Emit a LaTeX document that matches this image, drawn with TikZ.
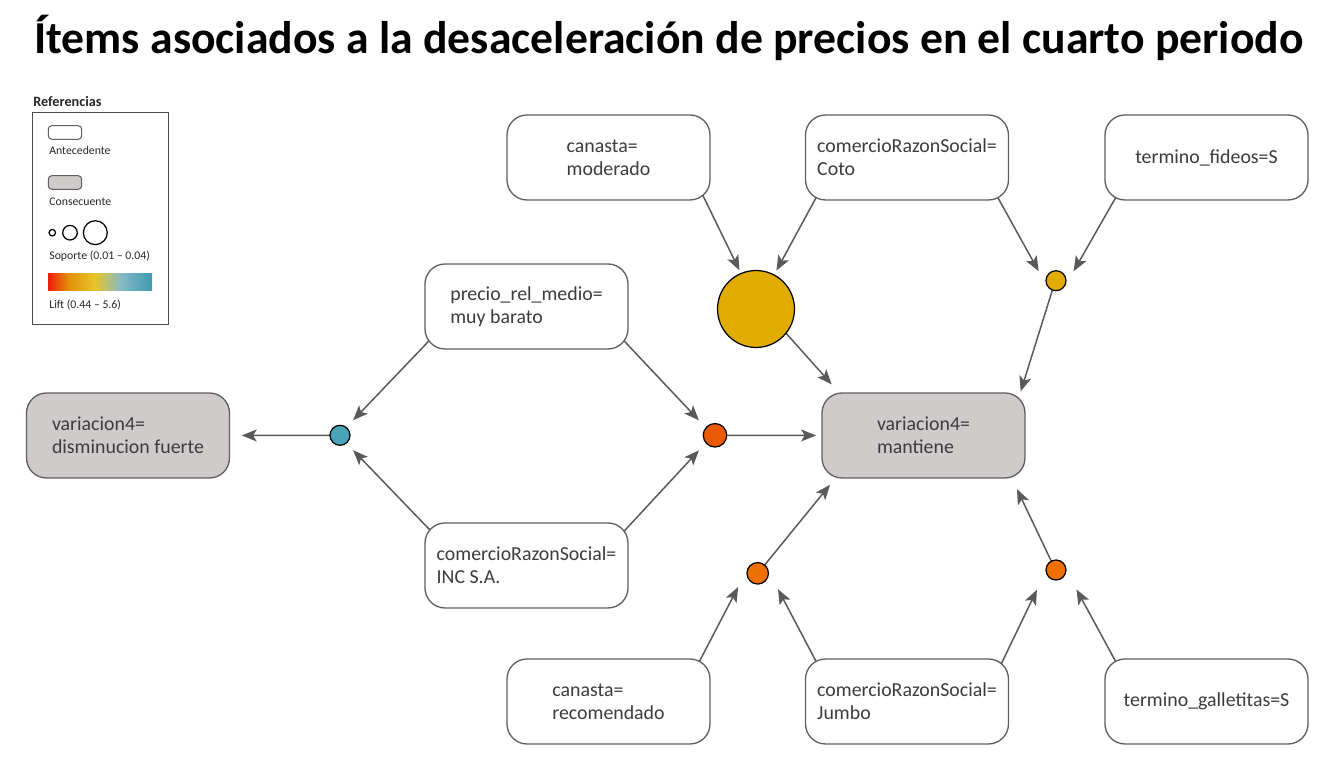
\documentclass[tikz,border=0pt]{standalone}
\usepackage{fontspec}
\setmainfont{Carlito}
\usetikzlibrary{arrows.meta,backgrounds}

\definecolor{bordegris}{HTML}{5F5F5F}
\definecolor{rellenogris}{HTML}{CFCBCB}
\definecolor{textogris}{HTML}{3C3C3C}
\definecolor{grisflecha}{HTML}{595959}
\definecolor{amarillo}{HTML}{E1AB00}
\definecolor{celeste}{HTML}{4BA3B8}
\definecolor{rojizo}{HTML}{EA5A00}
\definecolor{naranja}{HTML}{EE7000}
\definecolor{liftA}{HTML}{F01C0A}
\definecolor{liftB}{HTML}{E3920A}
\definecolor{liftC}{HTML}{E8C52A}
\definecolor{liftD}{HTML}{86B9C6}
\definecolor{liftE}{HTML}{3C9AAF}

\tikzset{
  antecedente/.style={draw=bordegris, line width=0.75pt, fill=white, rounded corners=0.4cm,
    minimum width=4.06cm, minimum height=1.7cm, align=left, text=textogris,
    font=\fontsize{11.3}{13.2}\selectfont},
  consecuente/.style={antecedente, fill=rellenogris},
  regla/.style={circle, draw=black, line width=0.7pt, inner sep=0pt},
  flecha/.style={draw=grisflecha, line width=0.85pt,
    -{Stealth[length=8.5pt,width=6.8pt,inset=2pt]}, shorten <=-9pt},
  leyenda/.style={anchor=west, inner sep=0pt, text=black!85, font=\fontsize{6.7}{8}\selectfont}
}

\begin{document}
\begin{tikzpicture}[x=0.02cm, y=-0.02cm]
  \useasboundingbox (0,0) rectangle (1340,766);

  % Title
  \node[anchor=base, inner sep=0pt, font=\bfseries\fontsize{26}{30}\selectfont] (titulo) at (669,54)
    {Ítems asociados a la desaceleración de precios en el cuarto periodo};

  % Legend
  \node[leyenda, font=\bfseries\fontsize{8.1}{9}\selectfont] (tref) at (33,101.5) {Referencias};
  \draw[draw=black!70, line width=0.8pt] (32.7,112.7) rectangle (168.3,324.3);
  \draw[draw=bordegris, line width=0.6pt, rounded corners=2pt] (48.3,125.7) rectangle (81.7,139.3);
  \node[leyenda] (tant) at (49,150) {Antecedente};
  \draw[draw=bordegris, line width=0.6pt, rounded corners=2pt, fill=rellenogris] (48.3,175.7) rectangle (81.7,189.3);
  \node[leyenda] (tcons) at (49,201.5) {Consecuente};
  \node[regla, minimum size=3.7pt] (sop1) at (52.3,232.7) {};
  \node[regla, minimum size=8.3pt] (sop2) at (70,232.7) {};
  \node[regla, minimum size=13.6pt] (sop3) at (95.3,232.7) {};
  \node[leyenda] (tsop) at (49,256.5) {Soporte (0.01 – 0.04)};
  \shade[left color=liftA, right color=liftB] (48,274) rectangle (69,290.7);
  \shade[left color=liftB, right color=liftC] (68.8,274) rectangle (95,290.7);
  \shade[left color=liftC, right color=liftD] (94.8,274) rectangle (121,290.7);
  \shade[left color=liftD, right color=liftE] (120.8,274) rectangle (152,290.7);
  \node[leyenda] (tlift) at (49,305) {Lift (0.44 – 5.6)};

  % Items
  \node[antecedente] (mod)  at (608.5,157.5) {canasta=\\moderado};
  \node[antecedente] (coto) at (907,157.5)   {comercioRazonSocial=\\Coto};
  \node[antecedente] (fid)  at (1206.5,157.5) {termino\_fideos=S};
  \node[antecedente] (prm)  at (526.5,306.5) {precio\_rel\_medio=\\muy barato};
  \node[consecuente] (dis)  at (128,435.5)   {variacion4=\\disminucion fuerte};
  \node[consecuente] (mant) at (923.5,435.5) {variacion4=\\mantiene};
  \node[antecedente] (inc)  at (526.5,565.5) {comercioRazonSocial=\\INC S.A.};
  \node[antecedente] (rec)  at (608.5,701.5) {canasta=\\recomendado};
  \node[antecedente] (jum)  at (907,701.5)   {comercioRazonSocial=\\Jumbo};
  \node[antecedente] (gal)  at (1206.5,701.5) {termino\_galletitas=S};

  % Rules
  \node[regla, fill=amarillo, minimum size=1.54cm] (big) at (756,309) {};
  \node[regla, fill=amarillo, minimum size=0.4cm]  (sy)  at (1056,280.7) {};
  \node[regla, fill=celeste, minimum size=0.4cm]   (az)  at (340,435.3) {};
  \node[regla, fill=rojizo, minimum size=0.47cm]   (om)  at (715,435.3) {};
  \node[regla, fill=naranja, minimum size=0.43cm]  (oll) at (757.7,573.3) {};
  \node[regla, fill=naranja, minimum size=0.4cm]   (olr) at (1056,570) {};

  % Connectors
  \begin{scope}[on background layer]
    \draw[flecha, shorten >=1.7pt] (mod.-24.7) -- (big.113);
    \draw[flecha, shorten >=2.5pt] (coto.205) -- (big.62);
    \draw[flecha, shorten >=6.1pt] (big.-39) -- (mant.153);
    \draw[flecha, shorten >=9.5pt] (coto.-25) -- (sy.209);
    \draw[flecha, shorten >=9.6pt] (fid.205) -- (sy.-29);
    \draw[flecha, shorten >=0.6pt] (sy.-111) -- (mant.24);
    \draw[flecha, shorten >=5.3pt] (prm.201) -- (az.51);
    \draw[flecha, shorten >=5.3pt] (inc.158) -- (az.-51);
    \draw[flecha, shorten >=6.6pt] (az.west) -- (dis.east);
    \draw[flecha, shorten >=5.5pt] (prm.-21.6) -- (om.140);
    \draw[flecha, shorten >=5.5pt] (inc.21.7) -- (om.-140);
    \draw[flecha, shorten >=3pt] (om.east) -- (mant.west);
    \draw[flecha, shorten >=10.5pt] (rec.25) -- (oll.167);
    \draw[flecha, shorten >=11pt] (jum.155.6) -- (oll.6);
    \draw[flecha, shorten >=4.5pt] (oll.50) -- (mant.206.5);
    \draw[flecha, shorten >=11.3pt] (jum.24.8) -- (olr.190);
    \draw[flecha, shorten >=11.85pt] (gal.155) -- (olr.-6);
    \draw[flecha, shorten >=6.6pt] (olr.118) -- (mant.-26.7);
  \end{scope}
\end{tikzpicture}
\end{document}
